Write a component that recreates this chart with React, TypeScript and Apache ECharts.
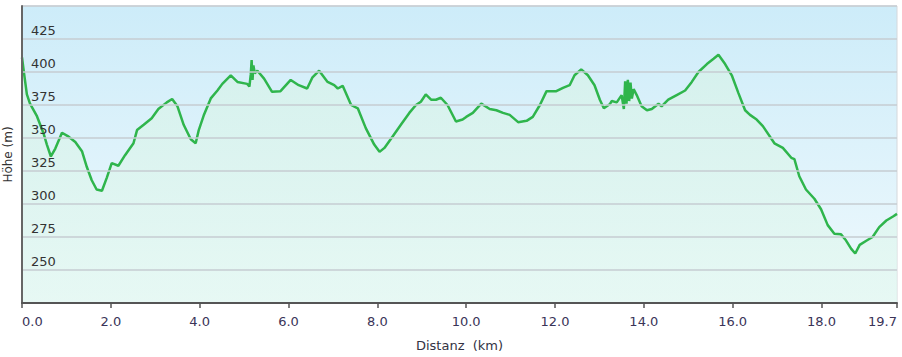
import React, { useEffect, useRef } from "react";
import * as echarts from "echarts";

const distanceKm = [
  0.0, 0.05, 0.11, 0.18, 0.33, 0.48, 0.56, 0.65, 0.75, 0.9, 1.05, 1.2, 1.35, 1.46, 1.57, 1.68, 1.8, 1.91,
  2.02, 2.17, 2.32, 2.51, 2.59, 2.74, 2.92, 3.07, 3.26, 3.38, 3.5, 3.64, 3.8, 3.91, 3.98, 4.09, 4.25, 4.4,
  4.51, 4.7, 4.85, 5.07, 5.12, 5.15, 5.17, 5.19, 5.21, 5.24, 5.3, 5.45, 5.63, 5.82, 6.05, 6.23, 6.42, 6.54,
  6.69, 6.88, 7.03, 7.11, 7.22, 7.41, 7.56, 7.74, 7.93, 8.05, 8.16, 8.34, 8.53, 8.72, 8.87, 8.98, 9.09,
  9.21, 9.32, 9.43, 9.58, 9.77, 9.92, 10.0, 10.15, 10.34, 10.53, 10.68, 10.83, 10.98, 11.17, 11.36, 11.5,
  11.66, 11.81, 12.03, 12.18, 12.33, 12.44, 12.59, 12.74, 12.89, 13.01, 13.1, 13.23, 13.28, 13.39, 13.5,
  13.55, 13.58, 13.61, 13.64, 13.67, 13.7, 13.73, 13.77, 13.84, 13.95, 14.07, 14.18, 14.33, 14.4, 14.55,
  14.74, 14.93, 15.08, 15.23, 15.42, 15.57, 15.68, 15.83, 15.98, 16.13, 16.28, 16.39, 16.54, 16.68, 16.94,
  17.13, 17.32, 17.39, 17.5, 17.65, 17.84, 17.99, 18.14, 18.29, 18.44, 18.55, 18.67, 18.76, 18.86, 19.0,
  19.15, 19.3, 19.46, 19.61, 19.7,
];

const elevationM = [
  411, 398, 383, 376, 367, 354, 345, 336, 342, 354, 351, 347, 340, 328, 318, 311, 310, 320,
  331, 329, 337, 346, 356, 360, 365, 372, 377, 379.5, 374, 360, 349, 346, 356, 367, 380, 386,
  391, 397.5, 392.5, 391, 389, 398, 409, 394, 405, 399, 401, 395, 385, 385.5, 394, 390, 387.5, 396,
  401, 392.5, 390, 387.5, 389.5, 375, 372.5, 357.5, 345, 339.5, 342.5, 351, 360, 369, 375, 377.5, 383,
  379, 379, 380.5, 375, 362.5, 364, 366, 369, 376, 372, 371, 369, 367.5, 362, 363, 366,
  375, 385.5, 385.5, 388, 390, 397.5, 402, 397.5, 390, 379, 372.5, 375.5, 378, 377, 382.5,
  372, 393, 376, 394, 378, 392, 380, 387, 382.5, 374, 371, 372, 376, 374, 379,
  382.5, 386, 392.5, 400, 406, 410, 413, 406, 397.5, 384, 371, 367.5, 364, 359, 346,
  342.5, 335, 334, 321, 311, 304, 296, 284, 277.5, 277, 272.5, 266, 262.5, 269, 272,
  275, 282.5, 287.5, 290.5, 292.5,
];

const yTickValues = [250, 275, 300, 325, 350, 375, 400, 425];

export default function App() {
  const ref = useRef<HTMLDivElement>(null);

  useEffect(() => {
    if (!ref.current) return;
    const chart = echarts.init(ref.current, null, { renderer: "svg" });
    const data = distanceKm.map((d, i) => [d, elevationM[i]]);
    chart.setOption({
      animation: false,
      textStyle: { fontFamily: "DejaVu Sans" },
      grid: {
        left: 22,
        right: 5,
        top: 6,
        bottom: 54,
        containLabel: false,
        outerBoundsMode: "none",
        show: true,
        borderColor: "#d4d8dc",
        borderWidth: 1,
        backgroundColor: new echarts.graphic.LinearGradient(0, 0, 0, 1, [
          { offset: 0, color: "#cdecf9" },
          { offset: 1, color: "#eff9fd" },
        ]),
      },
      xAxis: {
        type: "value",
        min: 0,
        max: 19.7,
        interval: 2,
        name: "Distanz  (km)",
        nameLocation: "middle",
        nameGap: 36,
        nameTextStyle: { color: "#333344", fontSize: 13, fontFamily: "DejaVu Sans" },
        axisLine: { show: true, onZero: false, lineStyle: { color: "#555555", width: 2 } },
        axisTick: { show: true, length: 5, lineStyle: { color: "#555555", width: 1.5 } },
        splitLine: { show: false },
        z: 10,
        axisLabel: {
          color: "#3a3458",
          fontSize: 13,
          margin: 12,
          showMinLabel: true,
          showMaxLabel: true,
          alignMinLabel: "left",
          alignMaxLabel: "right",
          formatter: (v: number) => v.toFixed(1),
        },
      },
      yAxis: {
        type: "value",
        min: 225,
        max: 450,
        interval: 25,
        name: "Höhe (m)",
        nameLocation: "middle",
        nameGap: 8,
        nameTextStyle: { color: "#333333", fontSize: 12, fontFamily: "DejaVu Sans" },
        axisLine: { show: true, lineStyle: { color: "#666666", width: 2 } },
        axisTick: { show: false },
        splitLine: { show: true, lineStyle: { color: "#c6cdd2", width: 1.5 } },
        z: 10,
        axisLabel: {
          inside: true,
          margin: 9,
          color: "#333333",
          fontSize: 13,
          verticalAlign: "bottom",
          padding: [0, 0, 2, 0],
          formatter: (v: number) => (yTickValues.indexOf(v) >= 0 ? String(v) : ""),
        },
      },
      series: [
        {
          type: "line",
          data,
          showSymbol: false,
          symbol: "none",
          lineStyle: { color: "#2fb54c", width: 2.5 },
          areaStyle: {
            origin: "start",
            color: new echarts.graphic.LinearGradient(0, 0, 0, 1, [
              { offset: 0, color: "#d6f2e8" },
              { offset: 1, color: "#e3f8f0" },
            ]),
          },
          z: 3,
        },
      ],
    });
    return () => chart.dispose();
  }, []);

  return (
    <div
      ref={ref}
      style={{ position: "fixed", left: 0, top: 0, width: 902, height: 357, background: "#ffffff" }}
    />
  );
}
